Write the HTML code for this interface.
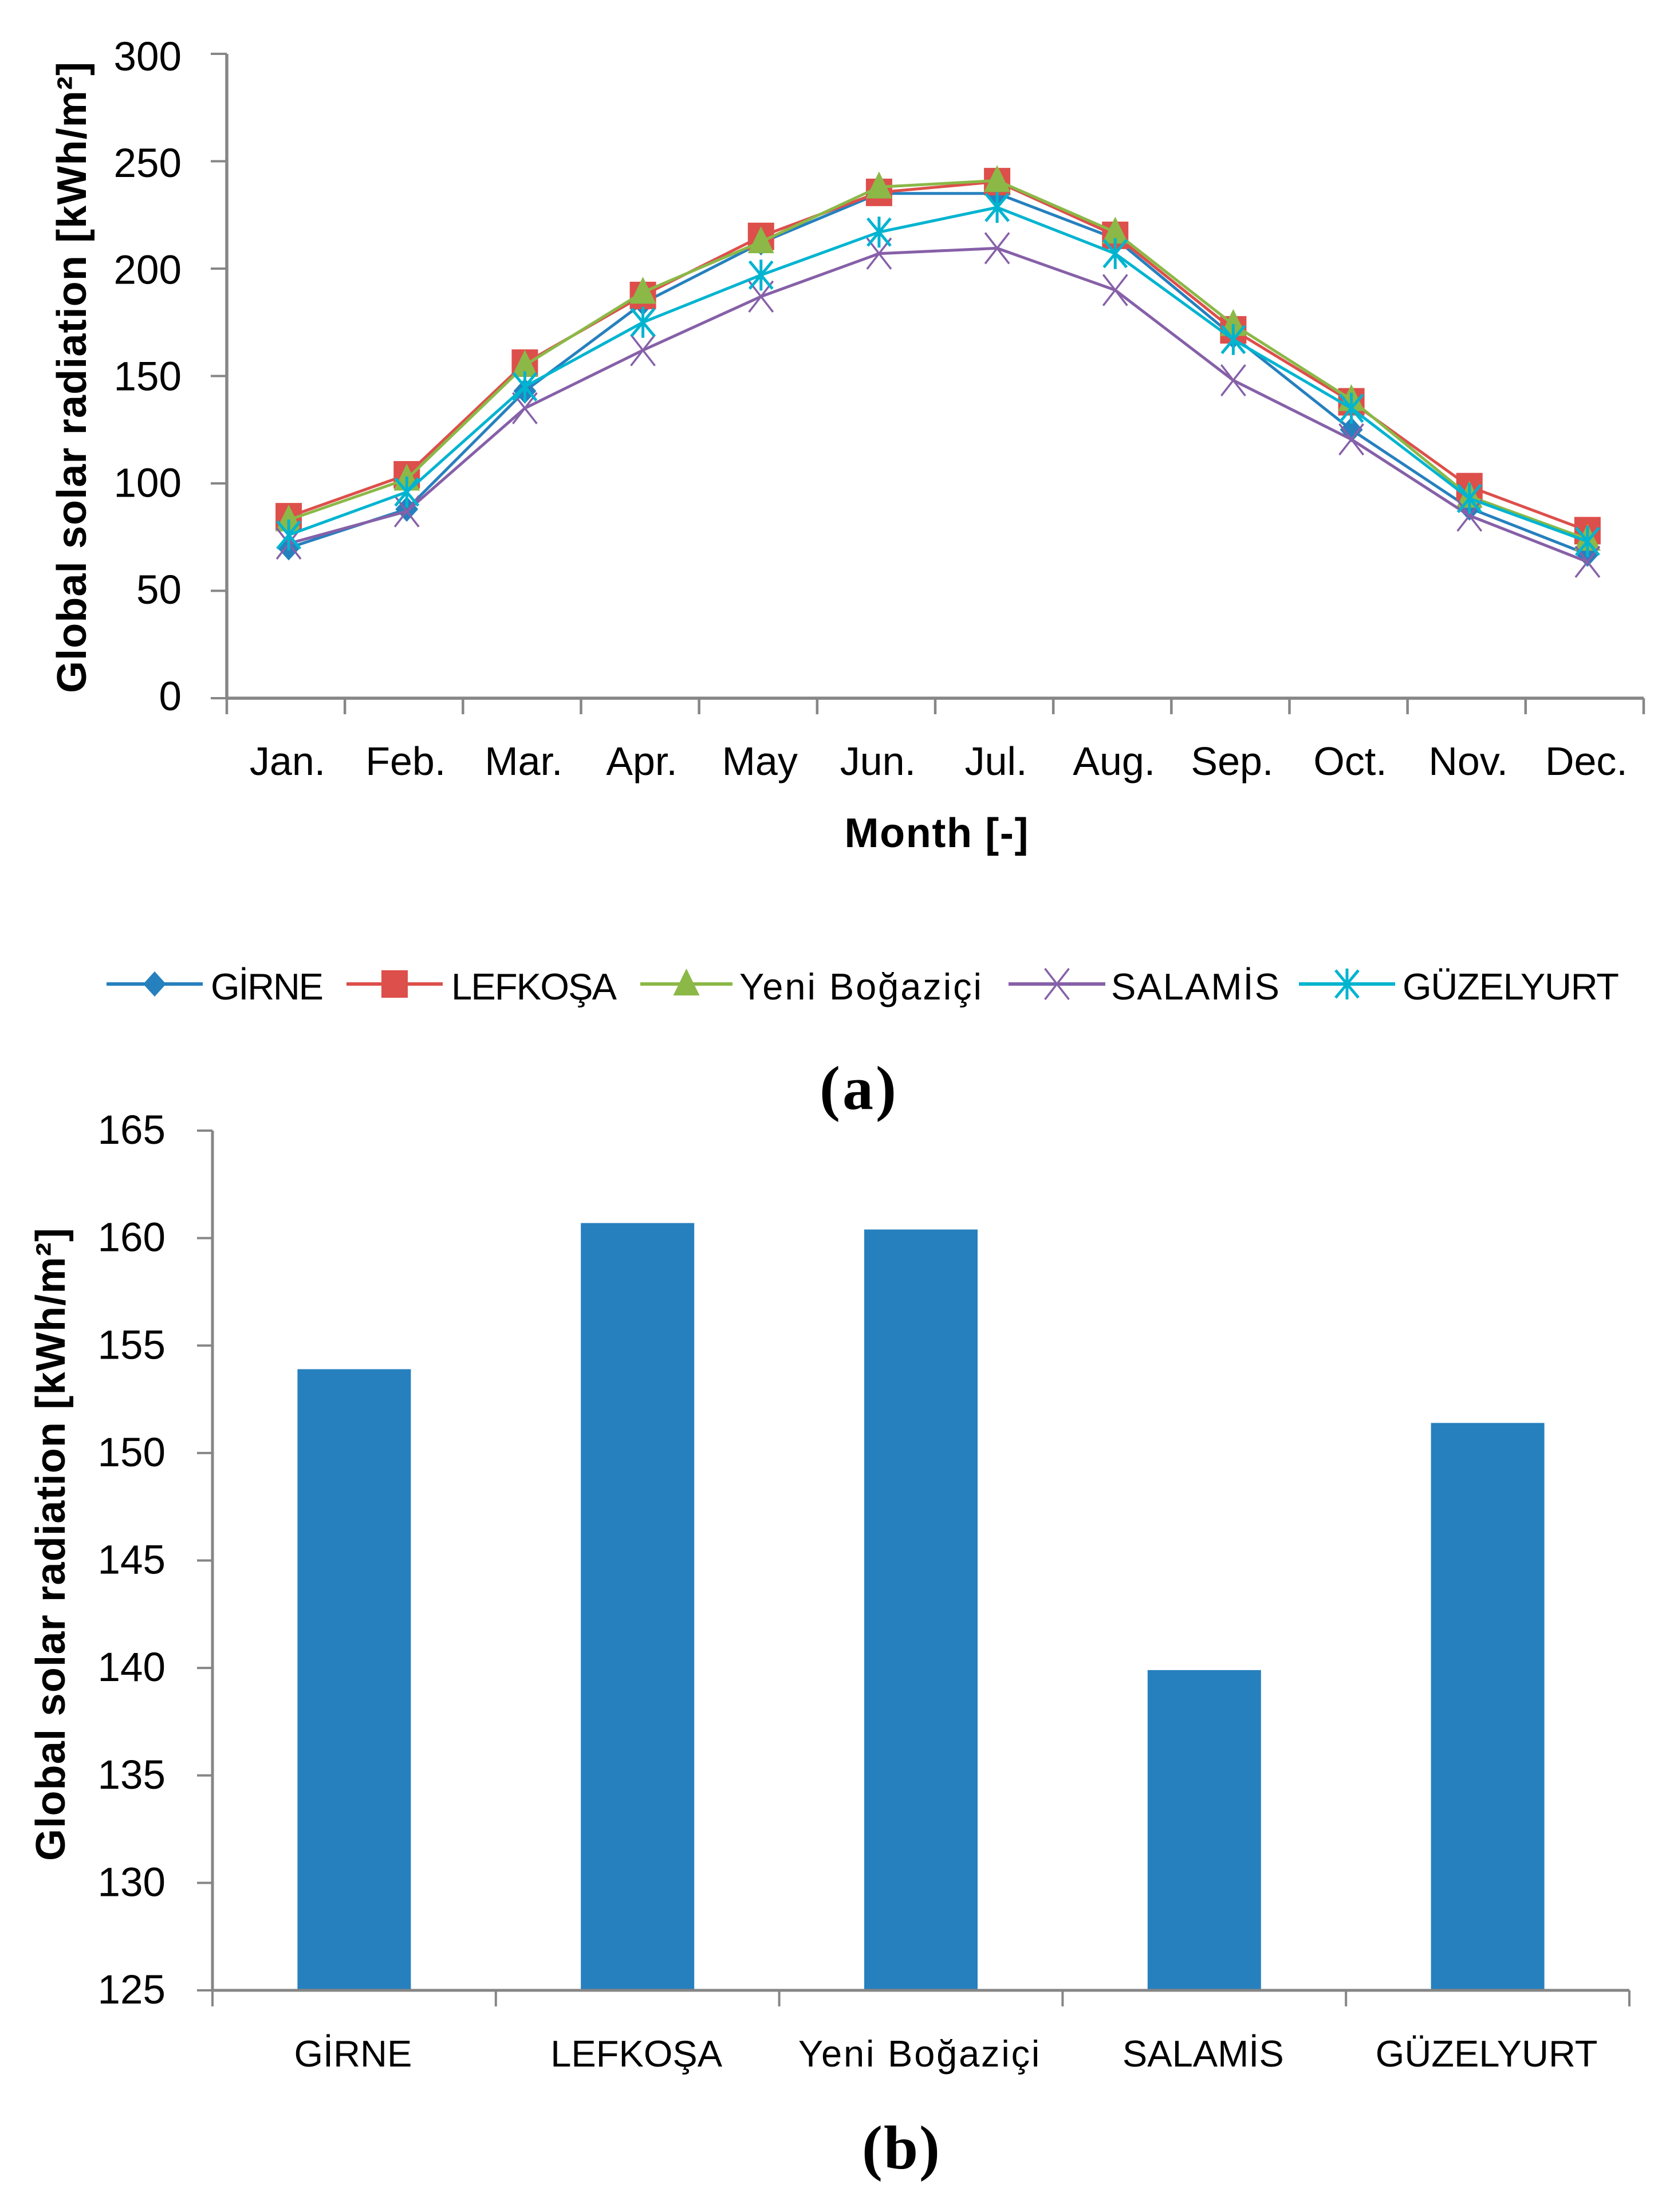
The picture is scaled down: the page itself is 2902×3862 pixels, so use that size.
<!DOCTYPE html>
<html lang="en">
<head>
<meta charset="utf-8">
<title>Global solar radiation charts</title>
<style>
html,body{margin:0;padding:0;background:#fff;}
svg{display:block;}
text{font-family:"Liberation Sans","DejaVu Sans",sans-serif;fill:#000;}
.tick{font-size:71px;}
.cat{font-size:70px;}
.cat-b{font-size:65px;}
.legend{font-size:65px;}
.title{font-size:72px;font-weight:bold;}
.caption{font-family:"Liberation Serif",serif;font-size:108px;font-weight:bold;}
</style>
</head>
<body>
<svg xmlns="http://www.w3.org/2000/svg" width="2902" height="3862" viewBox="0 0 2902 3862">
  <g id="chart-a">
    <text class="title" x="150" y="1210" transform="rotate(-90 150 1210)" textLength="1102">Global solar radiation  [kWh/m²]</text>
    <text class="title" x="1635" y="1479" text-anchor="middle" textLength="321">Month [-]</text>
  </g>
  <g id="legend">
    <text class="legend" x="368" y="1745" textLength="197">GİRNE</text>
    <text class="legend" x="788" y="1745" textLength="289">LEFKOŞA</text>
    <text class="legend" x="1291" y="1745" textLength="423">Yeni Boğaziçi</text>
    <text class="legend" x="1940" y="1745" textLength="294">SALAMİS</text>
    <text class="legend" x="2449" y="1745" textLength="378">GÜZELYURT</text>
  </g>
  <text class="caption" x="1498" y="1936" text-anchor="middle" textLength="134">(a)</text>
  <g id="chart-b">
    <text class="title" x="113" y="3249" transform="rotate(-90 113 3249)" textLength="1105">Global solar radiation  [kWh/m²]</text>
  </g>
  <text class="caption" x="1573" y="3786" text-anchor="middle" textLength="136">(b)</text>
</svg>
<script>
// Chart (a) data
const months = ['Jan.','Feb.','Mar.','Apr.','May','Jun.','Jul.','Aug.','Sep.','Oct.','Nov.','Dec.'];
const girneMonthly = [70,88,143,184,212,235,235,214,168.5,125,88.5,67];
const lefkosaMonthly = [84.5,104,156,187.5,215,235.5,240.5,215.5,171.5,138,98.5,78];
const yeniMonthly = [83,102,155,189,212.5,238,241,217,174,139,94,74];
const salamisMonthly = [72,87,135,162,187,207,209.5,190,148,120.5,85,63.5];
const guzelyurtMonthly = [76,96,145,175,197,217,228.5,207,167,135,93,73];
const lineTicks = [0,50,100,150,200,250,300];

// Chart (b) data
const stations = ['GİRNE','LEFKOŞA','Yeni Boğaziçi','SALAMİS','GÜZELYURT'];
const annualValues = [153.9,160.7,160.4,139.9,151.4];
const barTicks = [125,130,135,140,145,150,155,160,165];

const NS = 'http://www.w3.org/2000/svg';
const AXIS = '#868686';
const BLUE = '#2680BE', RED = '#DD4F4B', GREEN = '#8BB847', PURPLE = '#8660A8', CYAN = '#00B4D0';

// Axis functions
const A = {left:396, right:2870, bottom:1219, top:94};
const B = {left:371, right:2845, bottom:3475, top:1974};
function xA(i){ return A.left + (A.right - A.left) * (i + 0.5) / months.length + 5; }
function yA(v){ return A.bottom - (v - lineTicks[0]) / (lineTicks[lineTicks.length-1] - lineTicks[0]) * (A.bottom - A.top); }
function xB(i){ return B.left + (B.right - B.left) * (i + 0.5) / stations.length; }
function yB(v){ return B.bottom - (v - barTicks[0]) / (barTicks[barTicks.length-1] - barTicks[0]) * (B.bottom - B.top); }

function make(tag, parent, attrs){
  const el = document.createElementNS(NS, tag);
  for (const k in attrs) el.setAttribute(k, attrs[k]);
  parent.appendChild(el);
  return el;
}

function markerPath(kind, x, y){
  if (kind === 'diamond') return `M${x} ${y-22}L${x+20} ${y}L${x} ${y+22}L${x-20} ${y}Z`;
  if (kind === 'square') return `M${x-23} ${y-24}H${x+23}V${y+24}H${x-23}Z`;
  if (kind === 'triangle') return `M${x} ${y-27}L${x+23} ${y+20}H${x-23}Z`;
  if (kind === 'cross') return `M${x-21} ${y-27}L${x+21} ${y+27}M${x+21} ${y-27}L${x-21} ${y+27}`;
  return `M${x-20} ${y-24}L${x+20} ${y+24}M${x+20} ${y-24}L${x-20} ${y+24}M${x} ${y-27}V${y+27}`;
}
function marker(parent, kind, color, x, y){
  const open = kind === 'cross' || kind === 'star';
  const el = make('path', parent, {
    d: markerPath(kind, x, y),
    fill: open ? 'none' : color,
    stroke: open ? color : 'none',
    'stroke-width': kind === 'star' ? 5 : 3.5
  });
  
  
  return el;
}

// ---- Chart (a) ----
const chartA = document.getElementById('chart-a');
const axisAY = make('path', chartA, {d:`M${A.left} ${A.top}V${A.bottom}`, stroke:AXIS, 'stroke-width':5.5, fill:'none'});


const axisAX = make('path', chartA, {d:`M${A.left} ${A.bottom}H${A.right}`, stroke:AXIS, 'stroke-width':5.5, fill:'none'});



lineTicks.forEach(function(v){
  const t = make('path', chartA, {d:`M${A.left-28} ${yA(v)}H${A.left}`, stroke:AXIS, 'stroke-width':4, fill:'none'});
  
  
  const label = make('text', chartA, {x:317, y:yA(v) + 21 + v / 300 * 8, 'text-anchor':'end', class:'tick'});
  label.textContent = String(v);
  
  
});
for (let i = 0; i <= months.length; i++){
  const x = A.left + (A.right - A.left) * i / months.length;
  const t = make('path', chartA, {d:`M${x} ${A.bottom}V${A.bottom+28}`, stroke:AXIS, 'stroke-width':4.5, fill:'none'});
  
  
}
months.forEach(function(m, i){
  const label = make('text', chartA, {x:xA(i) - 2, y:1353, 'text-anchor':'middle', class:'cat'});
  label.textContent = m;
  
  
});

function drawSeries(values, color, kind, name){
  const g = make('g', chartA, {});
  
  
  const d = values.map(function(v, i){ return (i ? 'L' : 'M') + xA(i) + ' ' + yA(v); }).join('');
  const line = make('path', g, {d:d, fill:'none', stroke:color, 'stroke-width':5, 'stroke-linejoin':'round'});
  
  
  values.forEach(function(v, i){ marker(g, kind, color, xA(i), yA(v)); });
}
drawSeries(girneMonthly, BLUE, 'diamond', 'girne');
drawSeries(lefkosaMonthly, RED, 'square', 'lefkosa');
drawSeries(yeniMonthly, GREEN, 'triangle', 'yeni-bogazici');
drawSeries(salamisMonthly, PURPLE, 'cross', 'salamis');
drawSeries(guzelyurtMonthly, CYAN, 'star', 'guzelyurt');

// ---- Legend swatches ----
const legendGroup = document.getElementById('legend');
function swatch(x1, x2, color, kind){
  const line = make('path', legendGroup, {d:`M${x1} 1718H${x2}`, stroke:color, 'stroke-width':6, fill:'none'});
  
  
  marker(legendGroup, kind, color, (x1 + x2) / 2, 1718);
}
swatch(186, 354, BLUE, 'diamond');
swatch(605, 773, RED, 'square');
swatch(1118, 1279, GREEN, 'triangle');
swatch(1761, 1930, PURPLE, 'cross');
swatch(2268, 2436, CYAN, 'star');

// ---- Chart (b) ----
const chartB = document.getElementById('chart-b');
annualValues.forEach(function(v, i){
  const bar = make('rect', chartB, {x:xB(i) - 99, y:yB(v), width:198, height:yB(barTicks[0]) - yB(v), fill:BLUE});
  
  
});
const axisBY = make('path', chartB, {d:`M${B.left} ${B.top}V${B.bottom}`, stroke:AXIS, 'stroke-width':5, fill:'none'});


const axisBX = make('path', chartB, {d:`M${B.left} ${B.bottom}H${B.right}`, stroke:AXIS, 'stroke-width':5, fill:'none'});


barTicks.forEach(function(v){
  const t = make('path', chartB, {d:`M${B.left-27} ${yB(v)}H${B.left}`, stroke:AXIS, 'stroke-width':4, fill:'none'});
  
  
  const label = make('text', chartB, {x:289, y:yB(v) + 23, 'text-anchor':'end', class:'tick'});
  label.textContent = String(v);
  
  
});
for (let i = 0; i <= stations.length; i++){
  const x = B.left + (B.right - B.left) * i / stations.length;
  const t = make('path', chartB, {d:`M${x} ${B.bottom}V${B.bottom+28}`, stroke:AXIS, 'stroke-width':4, fill:'none'});
  
  
}
stations.forEach(function(s, i){
  const label = make('text', chartB, {x:xB(i) - 2, y:3608, 'text-anchor':'middle', class:'cat-b'});
  label.textContent = s;
  if (s.indexOf(' ') >= 0) label.style.letterSpacing = '2.8px';
  
  
});
</script>
</body>
</html>
